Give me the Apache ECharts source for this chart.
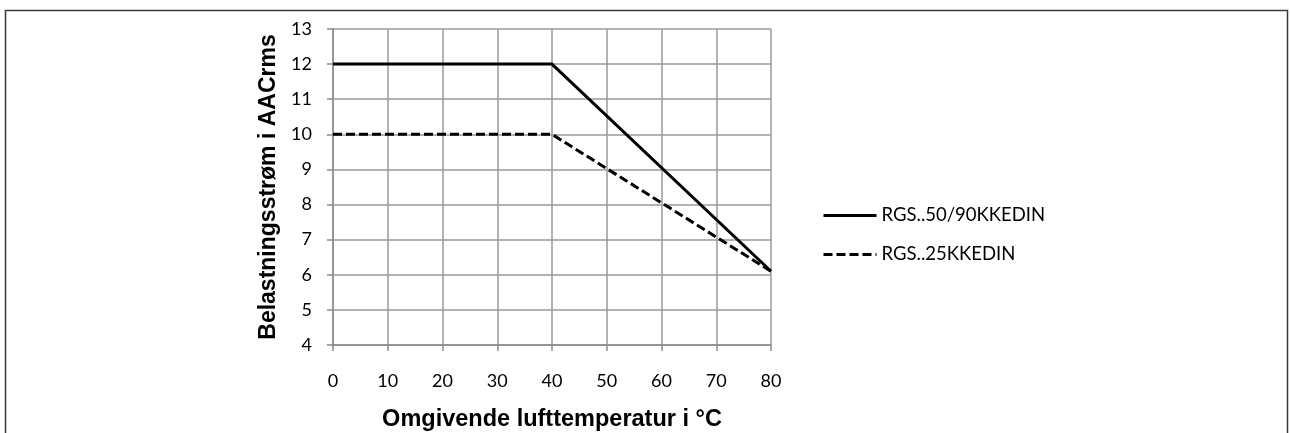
<!DOCTYPE html>
<html><head><meta charset="utf-8">
<script src="https://cdn.jsdelivr.net/npm/echarts@6/dist/echarts.min.js"></script>
<style>html,body{margin:0;padding:0;background:#fff}#c{width:1290px;height:433px}</style>
</head><body><div id="c"></div>
<script>
const xTicks = [0, 10, 20, 30, 40, 50, 60, 70, 80];
const temps = [0, 40, 80];
const seriesNames = ['RGS..50/90KKEDIN', 'RGS..25KKEDIN'];
const rgs5090 = [12, 12, 6.1];
const rgs25 = [10, 10, 6.1];

const chart = echarts.init(document.getElementById('c'), null, {renderer: 'canvas'});
const font = 'Lato';
const boldFont = 'Liberation Sans';
chart.setOption({
  animation: false,
  backgroundColor: '#fff',
  graphic: [{
    type: 'rect', shape: {x: 5.5, y: 10.5, width: 1282, height: 440},
    style: {fill: 'none', stroke: '#3a3a3a', lineWidth: 1.5}, silent: true
  }],
  grid: {left: 333, right: 519, top: 29, height: 316, containLabel: false, outerBoundsMode: 'none'},
  legend: {
    orient: 'vertical', left: 817, top: 201, itemWidth: 53, itemHeight: 20, itemGap: 20,
    itemStyle: {opacity: 0},
    lineStyle: {width: 3, color: '#000'},
    textStyle: {fontFamily: font, fontSize: 18.5, color: '#000'},
    data: seriesNames
  },
  xAxis: {
    type: 'value', min: 0, max: 80, interval: 10,
    name: 'Omgivende lufttemperatur i °C', nameLocation: 'middle', nameGap: 63,
    nameTextStyle: {fontFamily: boldFont, fontWeight: 'bold', fontSize: 23.5, color: '#000'},
    axisLine: {show: true, lineStyle: {color: '#8c8c8c', width: 1.5}},
    axisTick: {show: true, length: 6, inside: false, lineStyle: {color: '#8c8c8c', width: 1.5}},
    axisLabel: {margin: 27, fontFamily: font, fontSize: 18, color: '#000',
      formatter: v => xTicks.includes(v) ? String(v) : ''},
    splitLine: {show: true, lineStyle: {color: '#9a9a9a', width: 1.5}}
  },
  yAxis: {
    type: 'value', min: 4, max: 13, interval: 1,
    name: 'Belastningsstrøm i AACrms', nameLocation: 'middle', nameGap: 53,
    nameTextStyle: {fontFamily: boldFont, fontWeight: 'bold', fontSize: 23, color: '#000'},
    axisLine: {show: true, lineStyle: {color: '#8c8c8c', width: 1.5}},
    axisTick: {show: true, length: 6, lineStyle: {color: '#8c8c8c', width: 1.5}},
    axisLabel: {margin: 21, fontFamily: font, fontSize: 18, color: '#000'},
    splitLine: {show: true, lineStyle: {color: '#9a9a9a', width: 1.5}}
  },
  series: [
    {name: seriesNames[0], type: 'line', symbol: 'none', data: temps.map((t, i) => [t, rgs5090[i]]),
      lineStyle: {color: '#000', width: 3}, itemStyle: {color: '#000'}},
    {name: seriesNames[1], type: 'line', symbol: 'none', data: temps.map((t, i) => [t, rgs25[i]]),
      lineStyle: {color: '#000', width: 3, type: [9, 4]}, itemStyle: {color: '#000'}}
  ]
});
</script></body></html>
